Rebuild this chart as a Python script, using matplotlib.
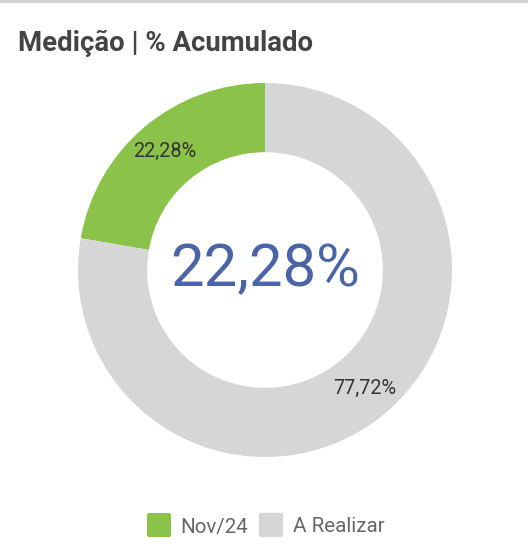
import matplotlib.pyplot as plt
from matplotlib.lines import Line2D
from matplotlib.markers import MarkerStyle
from matplotlib.patches import Rectangle

# Chart data
labels = ['Nov/24', 'A Realizar']
values = [22.28, 77.72]
colors = ['#8bc34a', '#d6d6d6']
center_label = '22,28%'

plt.rcParams['font.family'] = ['Roboto', 'DejaVu Sans']

W, H = 528, 558
fig = plt.figure(figsize=(W / 100, H / 100), dpi=100)

# thin grey line along the top edge
fig.add_artist(Rectangle((0, 1 - 3 / H), 1, 3 / H, transform=fig.transFigure,
                         color='#d0d0d0', lw=0))

fig.text(18 / W, 1 - 43 / H, 'Medição | % Acumulado', fontsize=19.8,
         fontweight='bold', color='#444444', va='center', ha='left')

# donut: centre (265, 270), outer radius 187 px
cx, cy, r = 265, 270, 187
ax = fig.add_axes([(cx - r) / W, 1 - (cy + r) / H, 2 * r / W, 2 * r / H])

wedges, texts, autotexts = ax.pie(
    values, colors=colors, startangle=90, counterclock=True, radius=1,
    wedgeprops=dict(width=0.37, edgecolor='none'),
    autopct=lambda p: f'{p:.2f}%'.replace('.', ','), pctdistance=0.83,
    textprops=dict(fontsize=14.3, color='#333333'))

# pie() resets the limits, so set them afterwards
ax.set_xlim(-1, 1)
ax.set_ylim(-1, 1)
ax.set_aspect('equal')
ax.axis('off')

ax.text(0, 0, center_label, ha='center', va='center', fontsize=43,
        color='#4a64a6')

# legend with rounded squares
marker = MarkerStyle('s', joinstyle='round')
handles = [Line2D([], [], ls='none', marker=marker, markersize=14,
                  markerfacecolor=c, markeredgecolor=c, markeredgewidth=3)
           for c in colors]
fig.legend(handles, labels, loc='center', bbox_to_anchor=(266 / W, 1 - 527 / H),
           ncol=2, frameon=False, fontsize=14.8, labelcolor='#666666',
           handlelength=1.1, handletextpad=0.5, columnspacing=0.55)

fig.savefig('out.png', dpi=100)
